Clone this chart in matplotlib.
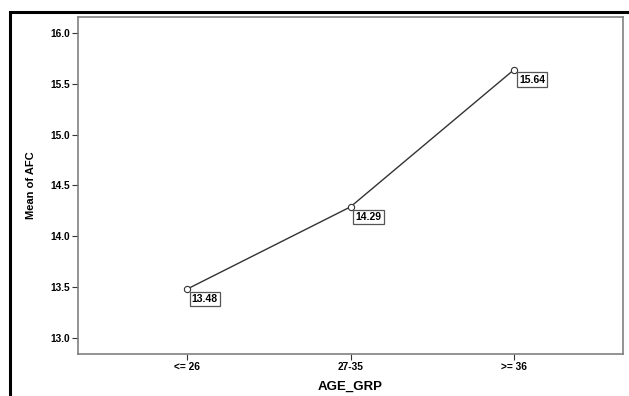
import matplotlib.pyplot as plt
from matplotlib.patches import Rectangle

age_groups = ['<= 26', '27-35', '>= 36']
mean_afc = [13.48, 14.29, 15.64]
y_ticks = [13.0, 13.5, 14.0, 14.5, 15.0, 15.5, 16.0]

plt.rcParams['font.family'] = ['Liberation Sans', 'DejaVu Sans']

fig = plt.figure(figsize=(6.29, 3.96), dpi=100)
ax = fig.add_axes([78 / 629, 1 - 354 / 396, (623 - 78) / 629, (354 - 17) / 396])

# outer black frame (runs off right and bottom edges)
fig.patches.append(Rectangle((10 / 629, -0.2), 1.2, 1.2 - 12 / 396,
                             transform=fig.transFigure, fill=False,
                             edgecolor='black', linewidth=2.2))

x = list(range(len(age_groups)))
ax.plot(x, mean_afc, color='#333333', linewidth=1.0, marker='o',
        markersize=4.5, markerfacecolor='white', markeredgecolor='#333333',
        markeredgewidth=0.8)

for xi, v in zip(x, mean_afc):
    ax.annotate(f'{v:.2f}', (xi, v), xytext=(5, -5), textcoords='offset pixels',
                ha='left', va='top', fontsize=7.5, fontweight='bold',
                bbox=dict(boxstyle='square,pad=0.2', facecolor='white',
                          edgecolor='#555555', linewidth=0.9))

ax.set_xlim(-0.665, 2.665)
ax.set_ylim(12.843, 16.157)
ax.set_xticks(x)
ax.set_xticklabels(age_groups)
ax.set_yticks(y_ticks)
ax.set_yticklabels([f'{t:.1f}' for t in y_ticks])
ax.tick_params(direction='out', length=4, width=0.8, color='#333333',
               labelsize=7.3, pad=2)
for lab in ax.get_xticklabels() + ax.get_yticklabels():
    lab.set_fontweight('bold')

for s in ax.spines.values():
    s.set_color('#808080')
    s.set_linewidth(1.2)

ax.set_xlabel('AGE_GRP', fontsize=9.5, fontweight='bold', labelpad=6)
ax.set_ylabel('Mean of AFC', fontsize=8, fontweight='bold', labelpad=10)

fig.savefig('out.png', dpi=100)
